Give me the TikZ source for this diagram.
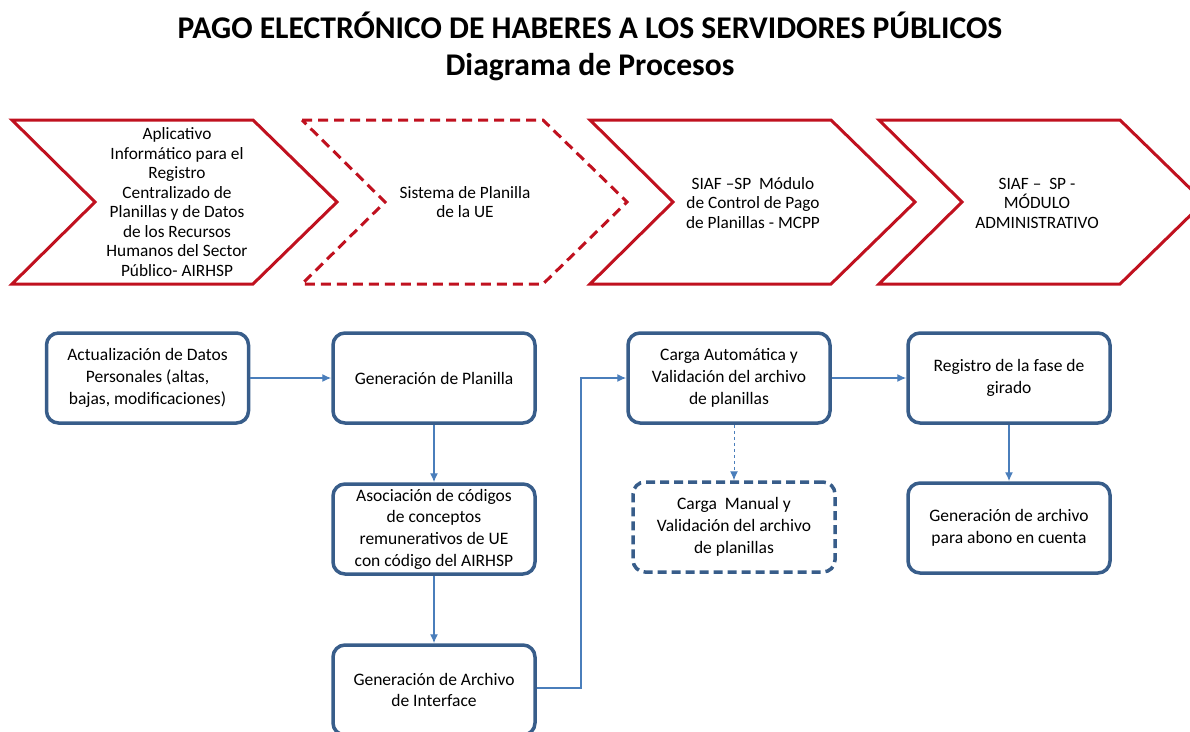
\documentclass[tikz,border=0pt]{standalone}
\usepackage{fontspec}
\setmainfont{Carlito}
\usepackage{tikz}
\usetikzlibrary{arrows.meta}

\definecolor{faserojo}{HTML}{C0111F}
\definecolor{cajaazul}{HTML}{385D8A}
\definecolor{flechaazul}{HTML}{4A7EBB}

\tikzset{
    fase/.style={draw=faserojo, line width=3pt, line join=miter},
    fasetxt/.style={align=center, font=\fontsize{17.3}{19.5}\selectfont},
    caja/.style={draw=cajaazul, line width=3.5pt, rounded corners=12pt,
        minimum width=202pt, minimum height=90pt,
        align=center, font=\fontsize{17.5}{21.7}\selectfont},
    flecha/.style={-{Latex[length=9pt, width=8pt]}, draw=flechaazul, line width=1.4pt},
    titulo/.style={font=\fontsize{31.6}{36}\selectfont\bfseries, anchor=base}
}

\begin{document}
\begin{tikzpicture}[x=1pt, y=-1pt]
            
                \useasboundingbox (0, 0) rectangle (1190, 731);

                \node [titulo] (tit1) at (590, 38)
                    {PAGO ELECTRÓNICO DE HABERES A LOS SERVIDORES PÚBLICOS};
                \node [titulo] (tit2) at (590, 75)
                    {Diagrama de Procesos};

                % fases
                \foreach \L in {12, 590, 879}
                    \draw [fase] (\L, 120) -- ++(241, 0) -- ++(84, 82)
                        -- ++(-84, 82) -- ++(-241, 0) -- ++(83, -82) -- cycle;
                \draw [fase, dash pattern=on 10pt off 6pt] (302, 120) -- ++(241, 0)
                    -- ++(84, 82) -- ++(-84, 82) -- ++(-241, 0) -- ++(83, -82) -- cycle;

                \node [fasetxt] (f1) at (177, 202)
                    {Aplicativo\\Informático para el\\Registro\\Centralizado de\\Planillas y de Datos\\de los Recursos\\Humanos del Sector\\Público- AIRHSP};
                \node [fasetxt] (f2) at (465, 202)
                    {Sistema de Planilla\\de la UE};
                \node [fasetxt] (f3) at (753, 203)
                    {SIAF –SP\ \ Módulo\\de Control de Pago\\de Planillas - MCPP};
                \node [fasetxt] (f4) at (1037, 203)
                    {SIAF –\ \ SP -\\MÓDULO\\ADMINISTRATIVO};

                % procesos
                \node [caja] (actualiza) at (147.5, 378)
                    {Actualización de Datos\\Personales (altas,\\bajas, modificaciones)};
                \node [caja] (genplanilla) at (434, 378)
                    {Generación de Planilla};
                \node [caja] (asocia) at (434, 529)
                    {Asociación de códigos\\de conceptos\\remunerativos de UE\\con código del AIRHSP};
                \node [caja] (interface) at (434, 690)
                    {Generación de Archivo\\de Interface};
                \node [caja] (cargaauto) at (729, 378)
                    {Carga Automática y\\Validación del archivo\\de planillas};
                \node [caja, dash pattern=on 9pt off 5pt] (cargaman) at (734, 527)
                    {Carga\ \ Manual y\\Validación del archivo\\de planillas};
                \node [caja] (girado) at (1009, 378)
                    {Registro de la fase de\\girado};
                \node [caja] (abono) at (1009, 528)
                    {Generación de archivo\\para abono en cuenta};

                \coordinate (codo) at (581, 688);

                \draw [flecha] (actualiza) -- (genplanilla);
                \draw [flecha] (genplanilla) -- (asocia);
                \draw [flecha] (asocia) -- (interface);
                \draw [flecha] (interface.east |- codo) -- (codo) |- (cargaauto.west);
                \draw [flecha, line width=1pt, dashed] (cargaauto.south -| cargaman.north) -- (cargaman.north);
                \draw [flecha] (cargaauto) -- (girado);
                \draw [flecha] (girado) -- (abono);
            \end{tikzpicture}
\end{document}
